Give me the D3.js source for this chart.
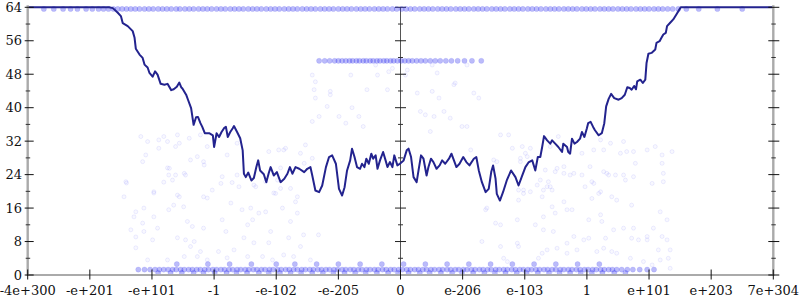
<!DOCTYPE html>
<html>
<head>
<meta charset="utf-8">
<script src="https://cdn.jsdelivr.net/npm/d3@7"></script>
<style>
body { margin: 0; background: #fff; }
svg { display: block; }
text { font-family: "DejaVu Serif", serif; font-size: 13px; fill: #111; }
</style>
</head>
<body>
<svg width="800" height="300"></svg>
<script>
// x axis is an ordinal float scale: one tick per step, -6 .. 6
var xTickLabels = ["-4e+300", "-e+201", "-e+101", "-1", "-e-102", "-e-205", "0", "e-206", "e-103", "1", "e+101", "e+203", "7e+304"];
var yMajor = [0, 8, 16, 24, 32, 40, 48, 56, 64];
var yMinor = [4, 12, 20, 28, 36, 44, 52, 60];

// average bits of error (the navy line)
var errLine = [[-6, 64], [-4.69, 64], [-4.63, 63.8], [-4.55, 62.7], [-4.5, 61.9], [-4.47, 60.2], [-4.39, 59.5], [-4.31, 58.3], [-4.28, 56.7], [-4.26, 54.1], [-4.2, 52.7], [-4.15, 51.9], [-4.12, 50.3], [-4.07, 49.6], [-4.04, 48.3], [-3.99, 47.4], [-3.95, 48.7], [-3.91, 47.9], [-3.86, 45.7], [-3.8, 45.5], [-3.75, 45.7], [-3.69, 44.2], [-3.65, 44.4], [-3.6, 45.0], [-3.56, 46.0], [-3.53, 44.9], [-3.51, 44.6], [-3.45, 43.1], [-3.42, 41.9], [-3.37, 39.9], [-3.33, 35.9], [-3.29, 37.7], [-3.26, 37.8], [-3.22, 36.3], [-3.19, 35.4], [-3.15, 33.9], [-3.08, 33.9], [-3.02, 33.4], [-3.0, 30.6], [-2.96, 33.9], [-2.92, 33.0], [-2.88, 34.2], [-2.84, 35.1], [-2.81, 35.4], [-2.78, 33.0], [-2.74, 34.2], [-2.7, 35.1], [-2.68, 35.6], [-2.63, 34.2], [-2.58, 32.7], [-2.54, 29.8], [-2.52, 24.2], [-2.49, 23.4], [-2.45, 24.5], [-2.4, 22.6], [-2.36, 23.2], [-2.32, 25.8], [-2.29, 27.4], [-2.26, 25.0], [-2.2, 24.1], [-2.16, 22.2], [-2.12, 24.4], [-2.09, 25.8], [-2.04, 23.8], [-1.99, 24.6], [-1.93, 22.2], [-1.87, 23.0], [-1.82, 24.2], [-1.78, 25.8], [-1.74, 24.2], [-1.69, 25.8], [-1.63, 25.4], [-1.55, 24.6], [-1.5, 25.4], [-1.45, 25.8], [-1.42, 23.8], [-1.37, 20.2], [-1.31, 19.8], [-1.26, 21.4], [-1.2, 25.8], [-1.15, 28.2], [-1.1, 28.6], [-1.04, 26.6], [-0.99, 20.6], [-0.94, 19.0], [-0.9, 21.0], [-0.86, 25.0], [-0.81, 27.4], [-0.78, 30.2], [-0.74, 28.2], [-0.7, 25.8], [-0.65, 25.4], [-0.62, 26.6], [-0.58, 25.8], [-0.55, 27.8], [-0.51, 26.6], [-0.47, 29.0], [-0.44, 27.8], [-0.4, 28.6], [-0.37, 25.4], [-0.33, 27.4], [-0.28, 29.4], [-0.24, 27.4], [-0.21, 25.8], [-0.17, 27.0], [-0.13, 25.8], [-0.1, 28.6], [-0.05, 26.2], [-0.01, 26.6], [0.05, 27.4], [0.1, 29.8], [0.13, 30.2], [0.17, 28.2], [0.21, 23.4], [0.26, 22.2], [0.29, 25.0], [0.33, 28.6], [0.37, 27.8], [0.42, 23.8], [0.45, 25.8], [0.49, 27.8], [0.53, 27.0], [0.58, 25.4], [0.63, 26.2], [0.67, 27.4], [0.72, 26.6], [0.78, 27.8], [0.82, 29.0], [0.86, 27.4], [0.9, 25.8], [0.95, 26.6], [1.01, 28.2], [1.06, 27.0], [1.11, 26.2], [1.18, 27.8], [1.22, 28.2], [1.26, 25.0], [1.31, 22.2], [1.37, 19.8], [1.42, 20.6], [1.46, 24.6], [1.49, 26.2], [1.53, 23.0], [1.55, 19.4], [1.6, 17.8], [1.65, 19.8], [1.71, 22.6], [1.78, 25.0], [1.85, 23.4], [1.9, 21.4], [1.96, 23.8], [2.01, 25.8], [2.06, 26.9], [2.12, 27.4], [2.17, 25.0], [2.21, 28.2], [2.25, 28.2], [2.28, 30.6], [2.31, 33.2], [2.36, 32.2], [2.41, 31.4], [2.44, 32.2], [2.49, 31.4], [2.54, 30.6], [2.6, 29.4], [2.62, 31.4], [2.68, 30.6], [2.7, 29.4], [2.73, 29.0], [2.76, 32.6], [2.8, 31.4], [2.84, 31.8], [2.89, 32.6], [2.92, 34.2], [2.96, 33.0], [3.0, 35.1], [3.02, 36.3], [3.06, 36.6], [3.1, 35.4], [3.13, 34.6], [3.19, 33.4], [3.24, 33.9], [3.28, 36.3], [3.31, 40.3], [3.35, 42.1], [3.39, 43.3], [3.44, 42.3], [3.51, 41.9], [3.56, 42.3], [3.61, 43.1], [3.65, 44.9], [3.69, 44.7], [3.72, 44.3], [3.76, 45.2], [3.79, 44.4], [3.81, 46.3], [3.86, 46.7], [3.9, 45.9], [3.94, 46.7], [3.96, 50.7], [3.99, 52.9], [4.04, 53.1], [4.1, 53.9], [4.12, 55.5], [4.17, 55.9], [4.2, 56.7], [4.23, 57.5], [4.27, 57.9], [4.29, 59.5], [4.34, 60.3], [4.39, 61.1], [4.44, 62.3], [4.49, 63.5], [4.51, 64], [6, 64]];

// individual sampled points (faint circles)
var samplePts = [[-4.1, 28.7], [-4.15, 27.1], [-4.41, 22.0], [-3.97, 19.6], [-3.75, 25.6], [-3.73, 23.9], [-3.62, 23.9], [-3.46, 23.9], [-3.81, 22.2], [-3.59, 19.1], [-4.45, 18.7], [-4.26, 15.1], [-4.13, 16.0], [-3.97, 13.9], [-3.65, 16.7], [-3.49, 16.3], [-3.73, 15.6], [-4.29, 13.9], [-4.15, 12.4], [-4.34, 10.8], [-4.13, 10.4], [-3.91, 11.2], [-3.43, 12.8], [-3.35, 11.6], [-4.26, 9.1], [-3.99, 8.4], [-3.59, 8.9], [-3.46, 8.4], [-3.32, 8.0], [-4.26, 6.5], [-3.38, 6.8], [-3.48, 4.4], [-4.07, 3.6], [-3.75, 3.6], [-3.27, 4.4],
  [-4.18, 33.1], [-4.07, 31.9], [-3.89, 32.3], [-3.81, 33.1], [-3.89, 30.3], [-3.75, 31.9], [-3.59, 33.5], [-3.56, 31.5], [-3.4, 32.7], [-3.62, 30.7], [-3.72, 25.5], [-3.48, 24.3], [-3.27, 28.3], [-3.38, 27.5], [-3.16, 26.3], [-3.22, 33.5], [-3.11, 30.7], [-2.79, 28.7], [-2.87, 23.5], [-2.71, 22.1], [-3.03, 20.3], [-3.67, 22.7], [-4.42, 22.3], [-3.97, 19.9], [-3.56, 18.7], [-2.12, 29.5], [-1.96, 29.9], [-2.63, 23.9], [-2.6, 21.1], [-2.36, 21.5], [-2.01, 19.5],
  [-3.17, 27.1], [-3.11, 18.4], [-2.87, 13.2], [-2.73, 17.2], [-2.55, 15.6], [-2.38, 13.2], [-2.46, 12.0], [-2.28, 14.8], [-2.17, 15.1], [-1.9, 16.0], [-2.04, 19.6], [-1.77, 12.8], [-1.66, 14.8], [-3.17, 11.2], [-2.81, 10.4], [-2.09, 10.4], [-2.52, 8.9], [-2.36, 7.7], [-2.12, 7.7], [-1.8, 8.9], [-1.61, 6.8], [-1.56, 9.6], [-1.32, 9.6], [-3.22, 5.6], [-2.93, 5.6], [-2.68, 6.0], [-2.46, 4.4], [-2.22, 4.4], [-2.06, 3.6], [-1.88, 4.8], [-1.72, 4.4], [-1.45, 3.6], [-3.11, 3.6], [-2.79, 4.1], [-1.66, 18.7], [-1.93, 25.6], [-1.98, 22.7], [-2.17, 22.3], [-2.89, 21.9], [-3.17, 18.7],
  [-1.42, 47.8], [-1.37, 46.2], [-1.39, 44.3], [-1.37, 42.3], [-1.13, 43.9], [-1.13, 43.1], [-1.18, 40.3], [-1.31, 37.9], [-1.42, 36.7], [-1.53, 31.1], [-0.99, 37.9], [-0.88, 36.3], [-0.78, 40.0], [-0.67, 37.9], [-0.6, 35.5], [-0.8, 47.8], [-0.54, 44.3], [-0.37, 47.8], [-0.4, 50.2], [-0.21, 44.3], [-0.19, 48.6], [-0.13, 49.4], [-1.85, 30.3], [-2.63, 31.5], [0.11, 49.0], [0.08, 47.8], [0.51, 50.2], [0.59, 48.3], [1.07, 50.2], [0.27, 43.5], [0.51, 43.9], [0.62, 42.3], [0.88, 45.9], [0.86, 45.5], [1.18, 43.5], [1.26, 42.3],
  [-1.61, 29.1], [-1.88, 29.9], [-1.42, 27.9], [-1.55, 26.7], [-2.33, 21.1], [-1.93, 20.7], [-1.77, 20.7], [-1.69, 17.5], [-2.41, 16.0], [0.32, 39.1], [0.4, 38.3], [0.54, 37.9], [0.7, 39.1], [0.8, 37.5], [0.99, 35.5], [1.07, 35.5], [0.48, 34.3], [1.61, 33.5], [1.74, 33.5], [1.8, 30.3], [2.01, 29.1], [2.09, 30.3], [2.33, 25.1], [2.49, 24.7], [2.38, 22.3], [2.25, 22.7], [2.2, 21.5], [2.3, 20.3], [2.28, 18.7], [1.9, 17.9], [1.9, 20.3], [1.39, 16.0], [1.55, 27.1], [1.5, 27.5], [1.93, 27.1],
  [1.13, 29.9], [1.93, 27.9], [2.92, 29.1], [3.11, 29.9], [2.79, 24.3], [2.63, 24.3], [2.73, 23.9], [2.92, 23.9], [2.36, 21.1], [2.44, 20.3], [1.98, 19.5], [2.09, 19.9], [3.11, 21.9], [3.08, 18.3], [1.37, 15.6], [2.63, 17.5], [2.68, 15.6], [2.76, 15.6], [2.44, 16.3], [2.49, 14.8], [2.3, 13.9], [3.03, 13.2], [1.53, 12.4], [1.61, 12.0], [1.88, 13.2], [2.17, 12.0], [2.3, 10.8], [2.46, 10.4], [2.79, 9.2], [2.95, 8.4], [3.03, 8.8], [1.31, 8.0], [1.61, 6.8], [1.9, 6.8], [1.88, 7.6], [2.36, 6.0], [2.52, 6.4], [2.68, 7.6], [2.22, 4.0], [2.28, 5.2], [1.66, 4.0], [1.72, 3.2], [2.68, 5.2], [2.84, 6.0], [3.16, 5.6],
  [3.22, 32.3], [3.38, 31.5], [3.59, 31.9], [3.97, 29.9], [4.1, 30.7], [4.37, 29.5], [3.78, 26.7], [3.54, 29.1], [4.23, 24.3], [4.23, 22.3], [4.05, 21.9], [3.75, 23.5], [3.59, 23.9], [3.32, 24.3], [2.54, 33.1], [2.41, 30.7], [2.63, 25.9], [2.52, 25.5], [2.04, 28.3], [1.96, 30.7], [2.41, 21.1], [1.98, 20.3], [3.05, 25.9], [2.97, 21.1], [3.08, 22.3], [3.4, 18.7], [3.19, 19.5],
  [3.27, 29.9], [3.64, 29.5], [3.75, 29.5], [4.21, 28.7], [3.27, 24.7], [3.35, 23.9], [3.46, 23.9], [3.62, 22.7], [4.21, 26.7], [3.22, 19.9], [3.48, 17.9], [3.72, 16.7], [4.18, 15.1], [4.29, 13.2], [3.22, 14.4], [3.24, 12.8], [3.43, 10.8], [3.59, 11.2], [3.75, 11.2], [4.07, 11.2], [4.21, 9.2], [4.29, 8.4], [3.3, 8.8], [3.72, 8.8], [3.83, 8.4], [3.97, 8.4], [3.97, 9.2], [3.27, 6.4], [3.4, 5.6], [3.48, 5.2], [4.34, 6.0], [4.15, 6.0], [3.7, 4.0], [3.91, 3.2], [4.18, 3.6], [4.31, 4.0], [4.05, 2.4], [4.34, 1.6]];

// dense rows of samples sharing the same error
var topBandBits = 63.6;
var topBandX = [-5.74, -5.58, -5.43, -5.31, -5.2, -5.06, -4.96, -4.86, -4.78, -4.7, -4.62, -4.55, -4.48, -4.41, -4.34, -4.27, -4.2, -4.12, -4.05, -3.98, -3.9, -3.83, -3.76, -3.69, -3.61, -3.55, -3.47, -3.4, -3.33, -3.25, -3.18, -3.11, -3.04, -2.96, -2.89, -2.82, -2.74, -2.67, -2.6, -2.53, -2.45, -2.38, -2.31, -2.24, -2.16, -2.09, -2.02, -1.95, -1.87, -1.8, -1.73, -1.66, -1.58, -1.51, -1.44, -1.37, -1.29, -1.22, -1.15, -1.08, -1.0, -0.93, -0.86, -0.79, -0.71, -0.64, -0.57, -0.5, -0.42, -0.35, -0.28, -0.21, -0.13, -0.06, 0.02, 0.09, 0.16, 0.23, 0.31, 0.38, 0.45, 0.52, 0.6, 0.67, 0.74, 0.81, 0.89, 0.96, 1.03, 1.1, 1.18, 1.25, 1.32, 1.39, 1.47, 1.54, 1.61, 1.68, 1.76, 1.83, 1.9, 1.97, 2.05, 2.12, 2.19, 2.26, 2.34, 2.41, 2.48, 2.55, 2.63, 2.7, 2.77, 2.84, 2.92, 2.99, 3.06, 3.13, 3.21, 3.28, 3.35, 3.42, 3.5, 3.57, 3.64, 3.71, 3.79, 3.86, 3.93, 4.0, 4.08, 4.15, 4.22, 4.3, 4.38, 4.47, 4.6, 4.8, 5.1, 5.5];
var midBandBits = 51.2;
var midBandX = [-1.31, -1.22, -1.14, -1.06, -1.0, -0.94, -0.88, -0.82, -0.77, -0.71, -0.66, -0.6, -0.55, -0.49, -0.44, -0.38, -0.33, -0.27, -0.22, -0.16, -0.11, -0.05, 0.01, 0.07, 0.13, 0.19, 0.26, 0.33, 0.4, 0.48, 0.56, 0.64, 0.73, 0.82, 0.92, 1.03, 1.15, 1.3];
var lowBandBits = 1.3;
var lowBandX = [-4.22, -4.12, -4.03, -3.95, -3.88, -3.81, -3.74, -3.67, -3.61, -3.54, -3.48, -3.41, -3.35, -3.28, -3.22, -3.15, -3.09, -3.02, -2.96, -2.89, -2.83, -2.76, -2.7, -2.63, -2.57, -2.5, -2.44, -2.37, -2.31, -2.24, -2.18, -2.11, -2.05, -1.98, -1.92, -1.85, -1.79, -1.72, -1.66, -1.59, -1.53, -1.46, -1.4, -1.33, -1.27, -1.2, -1.14, -1.07, -1.01, -0.94, -0.88, -0.81, -0.75, -0.68, -0.62, -0.55, -0.49, -0.42, -0.36, -0.29, -0.23, -0.16, -0.1, -0.03, 0.03, 0.1, 0.16, 0.23, 0.29, 0.36, 0.42, 0.49, 0.55, 0.62, 0.68, 0.75, 0.81, 0.88, 0.94, 1.01, 1.07, 1.14, 1.2, 1.27, 1.33, 1.4, 1.46, 1.53, 1.59, 1.66, 1.72, 1.79, 1.85, 1.92, 1.98, 2.05, 2.11, 2.18, 2.24, 2.31, 2.37, 2.44, 2.5, 2.57, 2.63, 2.7, 2.76, 2.83, 2.89, 2.96, 3.02, 3.09, 3.15, 3.22, 3.28, 3.35, 3.41, 3.48, 3.56, 3.65, 3.74, 3.85, 3.97, 4.08];
var lowBand2Bits = 0.5;
var lowBand2X = [-3.9, -3.7, -3.52, -3.33, -3.17, -2.99, -2.8, -2.64, -2.47, -2.28, -2.12, -1.94, -1.77, -1.6, -1.42, -1.25, -1.08, -0.9, -0.73, -0.56, -0.38, -0.2, -0.04, 0.13, 0.31, 0.47, 0.65, 0.83, 0.99, 1.17, 1.35, 1.52, 1.69, 1.87, 2.03, 2.21, 2.39, 2.56, 2.73, 2.9, 3.08, 3.25, 3.44, 3.62];
var lowBand3Bits = 2.6;
var lowBand3X = [-3.6, -3.1, -2.75, -2.4, -2.0, -1.7, -1.35, -1.0, -0.65, -0.3, 0.05, 0.4, 0.75, 1.1, 1.45, 1.8, 2.15, 2.5, 2.85, 3.2];

var svg = d3.select("svg");
var x = d3.scaleLinear().domain([-6, 6]).range([27.7, 773.3]);
var y = d3.scaleLinear().domain([0, 64]).range([275, 7.3]);
var BLUE = "#2b2bf0";

// middle (zero) axis, behind the data
var mid = svg.append("g");
mid.append("line").attr("x1", x(0)).attr("x2", x(0)).attr("y1", y(0)).attr("y2", y(64)).attr("stroke", "#555").attr("stroke-width", 1);
mid.selectAll("line.maj").data(yMajor).enter().append("line").attr("class", "maj")
	.attr("x1", x(0) - 5.5).attr("x2", x(0) + 5.5).attr("y1", function (d) { return y(d); }).attr("y2", function (d) { return y(d); })
	.attr("stroke", "#222").attr("stroke-width", 1);
mid.selectAll("line.min").data(yMinor).enter().append("line").attr("class", "min")
	.attr("x1", x(0) - 2.5).attr("x2", x(0) + 2.5).attr("y1", function (d) { return y(d); }).attr("y2", function (d) { return y(d); })
	.attr("stroke", "#333").attr("stroke-width", 1);

// points
var dots = svg.append("g");
function band(xs, bits) {
	return xs.map(function (v) { return [v, bits]; });
}
var bandPts = band(topBandX, topBandBits).concat(band(midBandX, midBandBits), band(lowBandX, lowBandBits), band(lowBand2X, lowBand2Bits), band(lowBand3X, lowBand3Bits));
dots.selectAll("circle.band").data(bandPts).enter().append("circle").attr("class", "band")
	.attr("cx", function (d) { return x(d[0]); }).attr("cy", function (d) { return y(d[1]); }).attr("r", 2.6)
	.attr("fill", BLUE).attr("fill-opacity", 0.32).attr("stroke", BLUE).attr("stroke-opacity", 0.1).attr("stroke-width", 1);
dots.selectAll("circle.pt").data(samplePts).enter().append("circle").attr("class", "pt")
	.attr("cx", function (d) { return x(d[0]); }).attr("cy", function (d) { return y(d[1]); }).attr("r", 2)
	.attr("fill", BLUE).attr("fill-opacity", 0.03).attr("stroke", BLUE).attr("stroke-opacity", 0.08).attr("stroke-width", 1);

// error line
var line = d3.line().x(function (d) { return x(d[0]); }).y(function (d) { return y(d[1]); });
svg.append("path").datum(errLine).attr("d", line).attr("fill", "none").attr("stroke", "#23238e").attr("stroke-width", 2).attr("stroke-linejoin", "round");

// frame axes: light grey left, right and bottom
var frame = svg.append("g");
frame.append("line").attr("x1", x(-6)).attr("x2", x(-6)).attr("y1", y(0) + 1).attr("y2", y(64) - 2).attr("stroke", "#aaa").attr("stroke-width", 2.4);
frame.append("line").attr("x1", x(6)).attr("x2", x(6)).attr("y1", y(0) + 1).attr("y2", y(64) - 2).attr("stroke", "#aaa").attr("stroke-width", 2.4);
frame.append("line").attr("x1", x(-6)).attr("x2", x(6)).attr("y1", y(0)).attr("y2", y(0)).attr("stroke", "#aaa").attr("stroke-width", 2.2);

// y ticks on both side axes
[[x(-6), -3, 6], [x(6), -5, 6]].forEach(function (a) {
	frame.selectAll(null).data(yMajor).enter().append("line")
		.attr("x1", a[0] + a[1]).attr("x2", a[0] + a[2]).attr("y1", function (d) { return y(d); }).attr("y2", function (d) { return y(d); })
		.attr("stroke", "#111").attr("stroke-width", 1);
	frame.selectAll(null).data(yMinor).enter().append("line")
		.attr("x1", a[0] - 2).attr("x2", a[0] + 2.5).attr("y1", function (d) { return y(d); }).attr("y2", function (d) { return y(d); })
		.attr("stroke", "#333").attr("stroke-width", 1);
});
frame.selectAll("text.yl").data(yMajor).enter().append("text").attr("class", "yl")
	.attr("x", 22).attr("y", function (d) { return y(d); }).attr("dy", "0.36em").attr("text-anchor", "end")
	.text(function (d) { return d; });

// x ticks
frame.selectAll("line.xt").data(xTickLabels).enter().append("line").attr("class", "xt")
	.attr("x1", function (d, i) { return x(i - 6); }).attr("x2", function (d, i) { return x(i - 6); })
	.attr("y1", y(0) - 5.5).attr("y2", y(0) + 4.5).attr("stroke", "#111").attr("stroke-width", 1);
frame.selectAll("text.xl").data(xTickLabels).enter().append("text").attr("class", "xl")
	.attr("x", function (d, i) { return x(i - 6); }).attr("y", 295).attr("text-anchor", "middle")
	.text(function (d) { return d; });
</script>
</body>
</html>
